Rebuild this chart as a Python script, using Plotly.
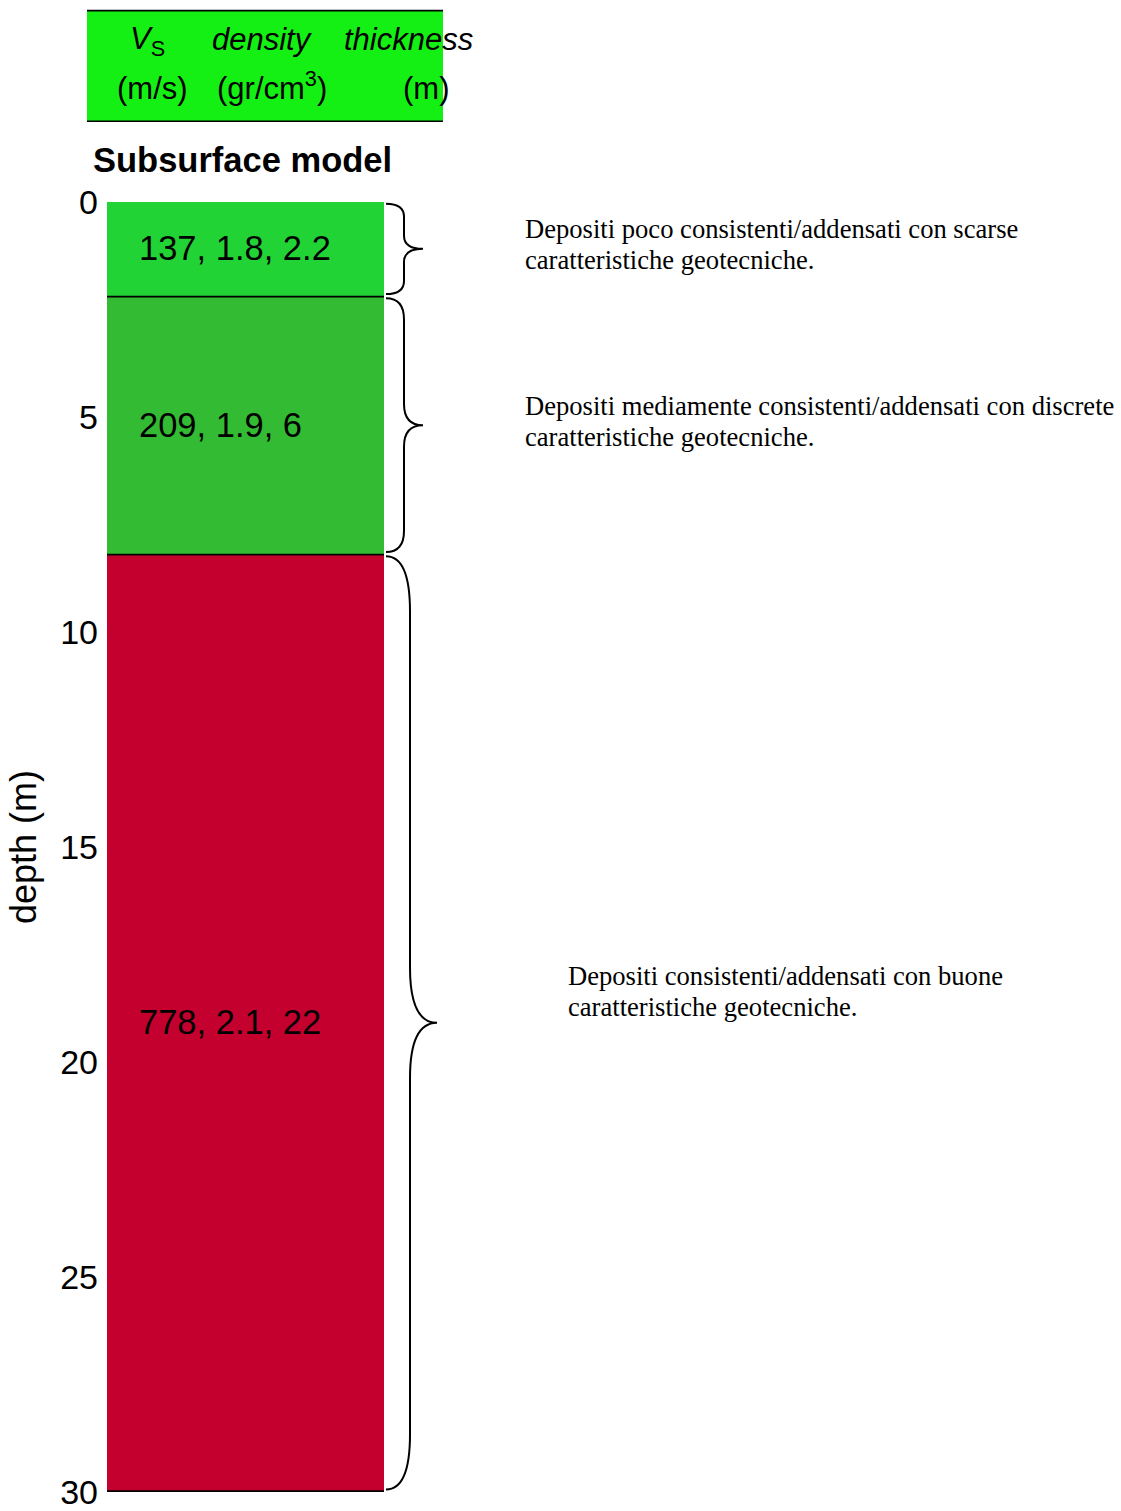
import plotly.graph_objects as go

# Layered subsurface model (Vs, density, thickness)
vs = [137, 209, 778]
density = [1.8, 1.9, 2.1]
thickness = [2.2, 6, 22]
layer_colors = ["#22D336", "#33BB33", "#C4002F"]
descriptions = [
    ["Depositi poco consistenti/addensati con scarse", "caratteristiche geotecniche."],
    ["Depositi mediamente consistenti/addensati con discrete", "caratteristiche geotecniche."],
    ["Depositi consistenti/addensati con buone", "caratteristiche geotecniche."],
]
depth_ticks = [0, 5, 10, 15, 20, 25, 30]
max_depth = 30

W, H = 1121, 1511
ML, MR, MT, MB = 107, 0, 202, 15
BAR_PX = 277                      # pixel width of the layer column
plot_w = W - ML - MR
plot_h = H - MT - MB
px_per_m = plot_h / max_depth

tops = []
acc = 0.0
for t in thickness:
    tops.append(acc)
    acc += t
bottoms = [min(tp + t, max_depth) for tp, t in zip(tops, thickness)]
mids = [(tp + b) / 2 for tp, b in zip(tops, bottoms)]


def px_x(px):
    """horizontal pixel -> x data units (column spans 0..1)"""
    return (px - ML) / BAR_PX


def px_paper(px):
    return (px - ML) / plot_w


def py_paper(py):
    """vertical pixel -> paper y"""
    return 1 + (MT - py) / plot_h


fig = go.Figure()
fig.add_trace(go.Bar(
    x=[0.5] * len(vs), y=[b - tp for tp, b in zip(tops, bottoms)], base=tops,
    width=1, marker=dict(color=layer_colors, line=dict(width=0)),
    hoverinfo="skip", showlegend=False,
))

shapes = []
# layer boundaries (kept inside the plot area at the bottom edge)
edge = 0.9 / px_per_m
for b in bottoms:
    yb = min(b, max_depth - edge)
    shapes.append(dict(type="line", xref="x", yref="y", x0=0, x1=1, y0=yb, y1=yb,
                       line=dict(color="black", width=1.6)))


def brace_path(top, bot, x0, xs, xt):
    h = bot - top
    r = 0.2 + 0.05 * h
    mid = (top + bot) / 2
    return (f"M {x0},{top} Q {xs},{top} {xs},{top + r} "
            f"L {xs},{mid - r} Q {xs},{mid} {xt},{mid} "
            f"Q {xs},{mid} {xs},{mid + r} "
            f"L {xs},{bot - r} Q {xs},{bot} {x0},{bot}")


for i, (tp, b) in enumerate(zip(tops, bottoms)):
    big = (b - tp) > 10
    xs = px_x(410 if big else 404)
    xt = px_x(437 if big else 423)
    shapes.append(dict(type="path", xref="x", yref="y",
                       path=brace_path(tp + 0.04, b - 0.06, px_x(386), xs, xt),
                       line=dict(color="black", width=2)))

# header box
shapes.append(dict(type="rect", xref="paper", yref="paper", x0=px_paper(87), x1=px_paper(443),
                   y0=py_paper(121), y1=py_paper(10), fillcolor="#14F014",
                   line=dict(width=0), layer="below"))
for py in (10, 121):
    shapes.append(dict(type="line", xref="paper", yref="paper", x0=px_paper(87), x1=px_paper(443),
                       y0=py_paper(py), y1=py_paper(py), line=dict(color="black", width=1.6)))

sans = "Liberation Sans, Arial, sans-serif"
serif = "Liberation Serif, Times New Roman, serif"
ann = []
# values inside each layer
for v, d, t, m in zip(vs, density, thickness, mids):
    ann.append(dict(xref="x", yref="y", x=px_x(137), y=m, xanchor="left", yanchor="middle",
                    yshift=1, text=f"{v}, {d}, {t}", showarrow=False,
                    font=dict(family=sans, size=34.5, color="black")))
# descriptions next to the braces, one annotation per line
desc_x = [523, 523, 566]
desc_shift = [5, 4, 32]
line_gap = 31
for lines, m, dx, ds in zip(descriptions, mids, desc_x, desc_shift):
    n = len(lines)
    for k, ln in enumerate(lines):
        ann.append(dict(xref="x", yref="y", x=px_x(dx), y=m, xanchor="left", yanchor="middle",
                        yshift=ds + (n - 1) / 2 * line_gap - k * line_gap,
                        text=ln, showarrow=False,
                        font=dict(family=serif, size=26.6, color="black")))
# title
ann.append(dict(xref="x", yref="paper", x=0.49, y=py_paper(160), xanchor="center",
                yanchor="middle", text="<b>Subsurface model</b>", showarrow=False,
                font=dict(family=sans, size=34.5, color="black")))
# header labels
hdr_font = dict(family=sans, size=31, color="black")
ann += [
    dict(xref="x", yref="paper", x=px_x(128), y=py_paper(40), xanchor="left", yanchor="middle",
         text="<i>V</i><sub>S</sub>", showarrow=False, font=hdr_font),
    dict(xref="x", yref="paper", x=px_x(262), y=py_paper(39), xanchor="center", yanchor="middle",
         text="<i>density</i>", showarrow=False, font=hdr_font),
    dict(xref="x", yref="paper", x=px_x(408), y=py_paper(39), xanchor="center", yanchor="middle",
         text="<i>thickness</i>", showarrow=False, font=hdr_font),
    dict(xref="x", yref="paper", x=px_x(152), y=py_paper(88), xanchor="center", yanchor="middle",
         text="(m/s)", showarrow=False, font=hdr_font),
    dict(xref="x", yref="paper", x=px_x(272), y=py_paper(86), xanchor="center", yanchor="middle",
         text="(gr/cm<sup>3</sup>)", showarrow=False, font=hdr_font),
    dict(xref="x", yref="paper", x=px_x(426), y=py_paper(88), xanchor="center", yanchor="middle",
         text="(m)", showarrow=False, font=hdr_font),
]

fig.update_layout(
    width=W, height=H, autosize=False,
    margin=dict(l=ML, r=MR, t=MT, b=MB),
    paper_bgcolor="white", plot_bgcolor="white",
    shapes=shapes, annotations=ann, bargap=0,
    xaxis=dict(range=[0, plot_w / BAR_PX], visible=False, fixedrange=True),
    yaxis=dict(range=[max_depth, 0], tickvals=depth_ticks, showgrid=False, zeroline=False,
               showline=False, ticks="", ticklabelstandoff=8, ticklabeloverflow="allow",
               tickfont=dict(family=sans, size=34, color="black"),
               title=dict(text="depth (m)", standoff=12,
                          font=dict(family=sans, size=36, color="black"))),
)

fig.write_html("out.html")
